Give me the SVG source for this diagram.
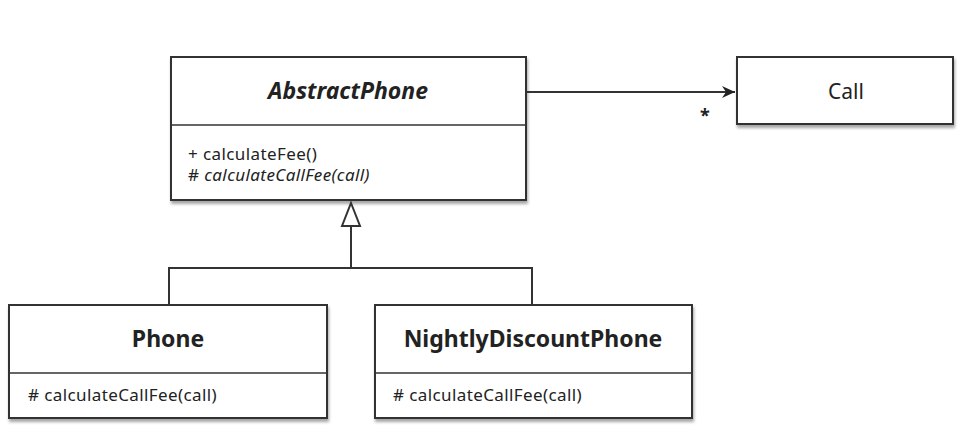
<svg xmlns="http://www.w3.org/2000/svg" width="968" height="434" viewBox="0 0 968 434">
<defs>
<filter id="sh" x="-5%" y="-5%" width="115%" height="125%">
<feDropShadow dx="1" dy="3" stdDeviation="1.5" flood-color="#000" flood-opacity="0.35"/>
</filter>
<marker id="open" markerWidth="14" markerHeight="14" refX="13" refY="7" orient="auto" markerUnits="userSpaceOnUse">
<path d="M0,1 L13,7 L0,13 L4,7 Z" fill="#222"/>
</marker>
</defs>
<style>
.box{fill:#fff;stroke:#333;stroke-width:2;filter:url(#sh)}
.div{stroke:#333;stroke-width:1.5}
.t{font-family:"Noto Sans","Open Sans",sans-serif;fill:#222}
.title{font-size:23px;font-weight:bold;text-anchor:middle}
.m{font-size:17px;letter-spacing:0.4px}
.ln{fill:none;stroke:#333;stroke-width:2}
</style>
<rect width="968" height="434" fill="#fff"/>
<g id="AbstractPhone">
<rect class="box" x="171" y="57" width="355" height="143"/>
<line class="div" x1="171" y1="125" x2="526" y2="125"/>
<text class="t title" x="348" y="99" font-style="italic">AbstractPhone</text>
<text class="t m" x="188" y="160">+ calculateFee()</text>
<text class="t m" x="188" y="181"># <tspan font-style="italic">calculateCallFee(call)</tspan></text>
</g>
<g id="Call">
<rect class="box" x="737" y="57" width="216" height="67"/>
<text class="t" x="846" y="99" font-size="21" text-anchor="middle">Call</text>
</g>
<g id="Phone">
<rect class="box" x="9" y="305" width="318" height="113"/>
<line class="div" x1="9" y1="373" x2="327" y2="373"/>
<text class="t title" x="168" y="347">Phone</text>
<text class="t m" x="28" y="401"># calculateCallFee(call)</text>
</g>
<g id="NightlyDiscountPhone">
<rect class="box" x="375" y="305" width="317" height="113"/>
<line class="div" x1="375" y1="373" x2="692" y2="373"/>
<text class="t title" x="533" y="347">NightlyDiscountPhone</text>
<text class="t m" x="393" y="401"># calculateCallFee(call)</text>
</g>
<g id="connectors">
<line class="ln" x1="527" y1="92" x2="735" y2="92" marker-end="url(#open)"/>
<text class="t" x="705" y="122" font-size="18" font-weight="bold" text-anchor="middle">*</text>
<path class="ln" d="M169,305 V268 H532 V305"/>
<path class="ln" d="M351,268 V226"/>
<path d="M351,203 L360,226 L342,226 Z" fill="#fff" stroke="#333" stroke-width="2"/>
</g>
</svg>
